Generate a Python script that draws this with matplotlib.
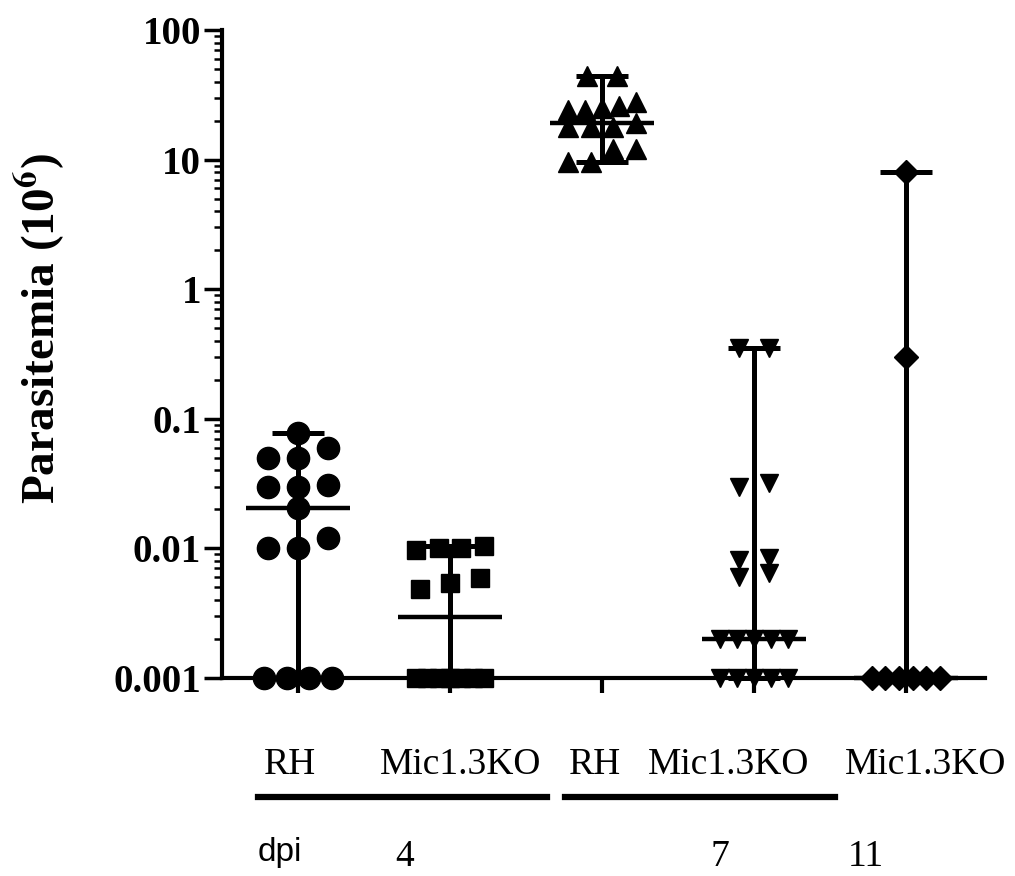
import numpy as np
import matplotlib
matplotlib.use("Agg")
import matplotlib.pyplot as plt
from matplotlib.lines import Line2D
from matplotlib.ticker import LogLocator, NullFormatter, FixedLocator

plt.rcParams['font.family'] = ['Liberation Serif', 'DejaVu Serif']
plt.rcParams['mathtext.fontset'] = 'stix'

# parasitemia (10^6) per mouse
rh_d4 = [0.078, 0.060, 0.050, 0.050, 0.031, 0.030, 0.030, 0.0205, 0.012, 0.010, 0.010,
         0.001, 0.001, 0.001, 0.001]
ko_d4 = [0.0105, 0.010, 0.010, 0.0098, 0.0059, 0.0054, 0.0049,
         0.001, 0.001, 0.001, 0.001, 0.001, 0.001, 0.001]
rh_d7 = [44, 44, 28, 26, 25, 24, 24, 19, 18, 18, 18, 12, 12, 9.6, 9.6]
ko_d7 = [0.35, 0.35, 0.032, 0.030, 0.0084, 0.0081, 0.0065, 0.0060,
         0.002, 0.002, 0.002, 0.002, 0.002, 0.001, 0.001, 0.001, 0.001, 0.001]
ko_d11 = [8.0, 0.30, 0.001, 0.001, 0.001, 0.001, 0.001, 0.001]

groups = [rh_d4, ko_d4, rh_d7, ko_d7, ko_d11]
markers = ['o', 's', '^', 'v', 'D']
msizes = [16, 13, 15, 13, 12]

strain_labels = ['RH', 'Mic1.3KO', 'RH', 'Mic1.3KO', 'Mic1.3KO']
dpi_labels = ['4', '7', '11']
yticks = [0.001, 0.01, 0.1, 1, 10, 100]
ytick_labels = ['0.001', '0.01', '0.1', '1', '10', '100']


def spread(vals, row_tol=0.1, step=0.2, width=0.45):
    # simple column-scatter layout: points of similar value go side by side
    v = np.log10(np.asarray(vals, dtype=float))
    order = np.argsort(v)
    offs = np.zeros(len(v))
    rows, cur = [], [order[0]]
    for i in order[1:]:
        if v[i] - v[cur[0]] <= row_tol:
            cur.append(i)
        else:
            rows.append(cur)
            cur = [i]
    rows.append(cur)
    for r in rows:
        n = len(r)
        if n > 1:
            s = min(step, width / (n - 1))
            offs[r] = (np.arange(n) - (n - 1) / 2) * s
    return offs


W, H = 1015, 876
fig = plt.figure(figsize=(W / 100, H / 100), dpi=100)
ax = fig.add_axes([222 / W, 1 - 678 / H, (985 - 222) / W, (678 - 30) / H])

for i, vals in enumerate(groups):
    x = i + spread(vals)
    ax.plot(x, vals, linestyle='none', marker=markers[i], markersize=msizes[i],
            color='black', clip_on=False, zorder=4)
    lo, hi, med = min(vals), max(vals), np.median(vals)
    ax.vlines(i, lo, hi, color='black', lw=3.6, zorder=3, clip_on=False)
    ax.hlines([lo, hi], i - 0.17, i + 0.17, color='black', lw=3.6, zorder=3, clip_on=False)
    ax.hlines(med, i - 0.34, i + 0.34, color='black', lw=3.2, zorder=3, clip_on=False)

ax.set_yscale('log')
ax.set_ylim(0.001, 100)
ax.set_xlim(-0.5, 4.52)
ax.yaxis.set_major_locator(FixedLocator(yticks))
ax.set_yticklabels(ytick_labels, fontsize=28, fontweight='bold')
ax.yaxis.set_minor_locator(LogLocator(base=10, subs=np.arange(2, 10)))
ax.yaxis.set_minor_formatter(NullFormatter())
ax.set_xticks(range(len(groups)))
ax.set_xticklabels([])

for s in ['top', 'right']:
    ax.spines[s].set_visible(False)
for s in ['left', 'bottom']:
    ax.spines[s].set_linewidth(3)
ax.tick_params(axis='y', which='major', length=13, width=2.5, pad=2)
ax.tick_params(axis='y', which='minor', length=6, width=1.8)
ax.tick_params(axis='x', which='major', length=11, width=3)

ax.set_ylabel(r'Parasitemia (10$^{\mathbf{6}}$)', fontsize=34, fontweight='bold')
ax.yaxis.set_label_coords(-0.202, 0.54)

# strain labels, group underlines and day labels below the axis
label_x = [290, 461, 595, 729, 926]
for lx, t in zip(label_x, strain_labels):
    fig.text(lx / W, 1 - 765 / H, t, fontsize=27, ha='center', va='center')
for x0, x1 in [(258, 547), (565, 835)]:
    fig.add_artist(Line2D([x0 / W, x1 / W], [1 - 797 / H, 1 - 797 / H],
                          color='black', lw=4.5, transform=fig.transFigure))
fig.text(258 / W, 1 - 853 / H, 'dpi', fontsize=24, family='Liberation Sans',
         ha='left', va='center')
for lx, t in zip([405, 720, 866], dpi_labels):
    fig.text(lx / W, 1 - 857 / H, t, fontsize=27, ha='center', va='center')

fig.savefig('out.png', dpi=100, facecolor='white')
